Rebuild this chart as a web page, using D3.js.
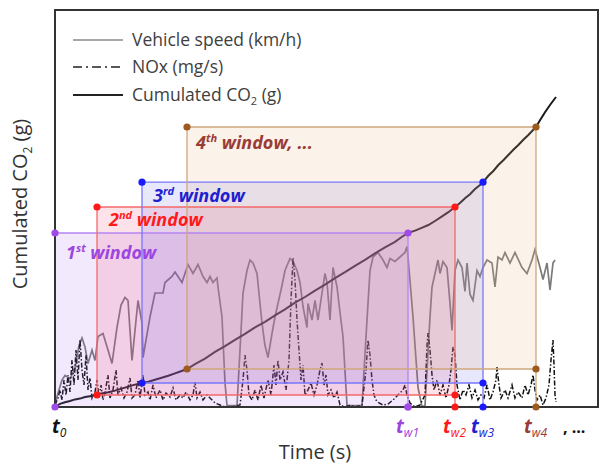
<!DOCTYPE html>
<html><head><meta charset="utf-8">
<script src="https://cdn.jsdelivr.net/npm/d3@7"></script>
<style>body{margin:0;background:#fff;} svg{display:block;}</style>
</head><body>
<svg id="c" width="602" height="465"></svg>
<script>
// ---------- data ----------
const speedT = [0,6,21,30,45,60,72,81,90,99,111,120,129,144,159,171,186,198,210,219,231,240,249,261,264,285,300,324,330,351,360,381,399,414,429,444,456,465,474,486,489,501,510,516,546,555,564,576,585,594,606,615,621,630,639,651,660,669,681,690,705,714,726,735,744,756,759,771,780,789,801,810,816,825,834,846,855,864,876,921,936,945,954,969,984,996,1005,1020,1035,1050,1056,1059,1074,1089,1101,1110,1119,1125,1131,1140,1149,1155,1164,1176,1185,1191,1200,1209,1221,1230,1236,1245,1254,1266,1275,1284,1296,1311,1320,1329,1341,1350,1365,1380,1401,1416,1431,1440,1455,1464,1476,1485,1494,1500];
const speedV = [1,7,18,21,19,26,41,46,40,29,38,31,47,49,38,29,53,68,73,71,31,51,71,56,33,60,76,76,83,87,90,83,95,89,95,87,83,87,83,86,80,60,16,1,1,38,76,91,98,96,89,69,56,41,33,49,60,69,81,91,99,97,91,83,67,53,69,58,71,58,76,89,83,58,93,80,63,47,1,1,58,91,100,103,98,93,99,97,100,103,107,100,60,13,0,1,36,60,80,89,98,89,97,93,69,51,91,98,93,77,96,75,71,91,87,93,98,96,80,100,98,103,96,103,93,89,98,105,93,85,96,78,96,98];

const noxT = [0,9,15,21,27,33,39,45,51,57,63,69,75,81,87,93,99,105,111,120,126,132,138,144,150,159,165,174,183,189,198,207,216,225,231,240,249,255,264,270,279,285,294,303,315,324,333,345,354,363,375,384,393,405,414,420,426,435,444,456,465,480,495,510,531,555,564,570,576,582,591,600,609,618,627,639,648,657,663,669,675,684,693,702,708,714,720,726,732,738,744,750,759,768,777,786,795,801,807,813,819,828,837,846,855,870,885,900,921,933,939,945,951,957,963,972,984,999,1014,1029,1044,1050,1056,1065,1080,1095,1110,1116,1119,1125,1131,1137,1146,1155,1164,1173,1182,1188,1194,1200,1206,1215,1224,1233,1242,1251,1260,1269,1278,1287,1296,1305,1314,1323,1326,1332,1338,1350,1359,1371,1380,1389,1401,1410,1419,1428,1434,1440,1446,1455,1464,1473,1482,1488,1494,1497,1500,1503];
const noxV = [2,9,17,7,27,12,32,15,47,22,57,27,67,37,22,52,17,29,9,15,27,9,22,7,14,32,9,17,37,12,19,9,15,29,9,12,27,9,32,12,15,7,22,9,17,7,14,10,19,7,12,9,15,7,12,25,9,15,7,12,9,4,2,0,0,2,27,52,37,12,7,17,7,22,9,27,12,42,22,47,27,35,17,47,107,149,127,87,57,27,42,12,17,24,12,22,37,44,22,32,12,17,9,15,2,0,2,0,2,37,67,52,27,12,7,4,2,3,7,12,17,22,12,4,0,2,12,62,74,57,32,17,27,12,22,9,22,37,60,52,22,7,17,12,22,9,17,7,12,9,22,7,15,27,40,22,9,17,9,22,9,15,9,22,12,22,32,17,7,12,2,9,22,47,67,42,12,5];

const co2T = [0,15,30,45,60,75,90,105,126,140,160,180,200,220,240,261,280,300,320,340,360,380,396,420,450,480,510,540,570,600,630,660,690,720,750,780,810,840,870,900,930,960,990,1020,1040,1059,1080,1100,1120,1140,1160,1180,1200,1215,1230,1245,1260,1275,1284,1300,1315,1330,1345,1360,1375,1390,1405,1420,1443,1455,1470,1485,1503];
const co2V = [0,8,12,15,19,21,25,27,30,34,37,41,46,51,56,60,63,68,73,78,84,90,95,107,121,138,152,168,183,199,213,229,244,261,275,291,306,322,337,353,368,384,399,413,425,435,441,448,455,465,476,487,500,510,522,532,545,555,562,578,590,605,617,630,643,655,668,680,700,717,737,755,775];

const windowNames = ["1st window", "2nd window", "3rd window", "4th window, ..."];
const windowStart = [0, 126, 261, 396];
const windowEnd = [1059, 1200, 1284, 1443];
const windowEndLabels = ["w1", "w2", "w3", "w4"];

// ---------- setup ----------
const svg = d3.select("#c");
const L = 55, R = 598, T = 10, B = 407;
const x = d3.scaleLinear().domain([0, 1629]).range([L, R]);
const yCO2 = d3.scaleLinear().domain([0, 1000]).range([B, 7]);
const ySpeed = d3.scaleLinear().domain([0, 120]).range([B, 227]);
const yNox = d3.scaleLinear().domain([0, 150]).range([B, 257]);
const co2At = t => co2V[co2T.indexOf(t)];
const FONT = "'Open Sans', sans-serif";

const col = [
  {line:"#b585f2", dot:"#a04be8", text:"#9c45e0", fill:"rgba(170,110,240,0.15)"},
  {line:"#f26a6a", dot:"#ff1a1a", text:"#ff1a1a", fill:"rgba(240,60,110,0.15)"},
  {line:"#7777ff", dot:"#1a1aff", text:"#2020d0", fill:"rgba(90,90,235,0.14)"},
  {line:"#cfa67c", dot:"#9c5a1e", text:"#9a3c36", fill:"rgba(230,175,125,0.17)"}
];

// data lines
const speedData = speedT.map((t,i)=>[t, speedV[i]]);
const noxData = noxT.map((t,i)=>[t, noxV[i]]);
const co2Data = co2T.map((t,i)=>[t, co2V[i]]);

svg.append("path").datum(speedData)
  .attr("d", d3.line().x(d=>x(d[0])).y(d=>ySpeed(d[1])))
  .attr("fill","none").attr("stroke","#7a7a7a").attr("stroke-width",1.7);
svg.append("path").datum(noxData)
  .attr("d", d3.line().x(d=>x(d[0])).y(d=>yNox(d[1])))
  .attr("fill","none").attr("stroke","#111").attr("stroke-width",1.5)
  .attr("stroke-dasharray","5,2,1.5,2");
svg.append("path").datum(co2Data)
  .attr("d", d3.line().x(d=>x(d[0])).y(d=>yCO2(d[1])))
  .attr("fill","none").attr("stroke","#1a1a1a").attr("stroke-width",2);

// windows
windowStart.forEach((s,i)=>{
  const e = windowEnd[i];
  const x0 = x(s), x1 = x(e), yb = yCO2(co2At(s)), yt = yCO2(co2At(e));
  svg.append("rect").attr("x",x0).attr("y",yt).attr("width",x1-x0).attr("height",yb-yt)
    .attr("fill",col[i].fill);
});
windowStart.forEach((s,i)=>{
  const e = windowEnd[i];
  const x0 = x(s), x1 = x(e), yb = yCO2(co2At(s)), yt = yCO2(co2At(e));
  const g = svg.append("g").attr("stroke",col[i].line).attr("stroke-width",1.3).attr("fill","none");
  g.append("path").attr("d",`M${x0},${yb}V${yt}H${x1}V${B}M${x0},${yb}H${x1}`);
});

// frame
svg.append("rect").attr("x",L).attr("y",T).attr("width",R-L).attr("height",B-T)
  .attr("fill","none").attr("stroke","#333").attr("stroke-width",2);

// dots
windowStart.forEach((s,i)=>{
  const e = windowEnd[i];
  const yb = yCO2(co2At(s)), yt = yCO2(co2At(e));
  const pts = [[x(s),yt],[x(s),yb],[x(e),yt],[x(e),yb],[x(e),B]];
  svg.selectAll(null).data(pts).enter().append("circle")
    .attr("cx",d=>d[0]).attr("cy",d=>d[1]).attr("r",3.6).attr("fill",col[i].dot);
});

// window labels
const labelPos = [[66,259],[109,226],[153,202],[196,149]];
const sups = ["st","nd","rd","th"];
windowNames.forEach((n,i)=>{
  const t = svg.append("text").attr("x",labelPos[i][0]).attr("y",labelPos[i][1])
    .attr("font-family",FONT).attr("font-weight","bold").attr("font-style","italic")
    .attr("font-size",18).attr("fill",col[i].text);
  t.append("tspan").text(n.charAt(0));
  t.append("tspan").text(sups[i]).attr("font-size",11).attr("dy",-7);
  t.append("tspan").text(n.slice(3)).attr("dy",7);
});

// legend
const lg = svg.append("g").attr("font-family",FONT).attr("font-size",17.5).attr("fill","#404040");
lg.append("line").attr("x1",73).attr("x2",123).attr("y1",40).attr("y2",40).attr("stroke","#8a8a8a").attr("stroke-width",1.6);
lg.append("line").attr("x1",73).attr("x2",120).attr("y1",67).attr("y2",67).attr("stroke","#222").attr("stroke-width",1.6).attr("stroke-dasharray","9,4,2,4");
lg.append("line").attr("x1",73).attr("x2",123).attr("y1",95).attr("y2",95).attr("stroke","#222").attr("stroke-width",2);
lg.append("text").attr("x",132).attr("y",46).text("Vehicle speed (km/h)");
lg.append("text").attr("x",132).attr("y",73).text("NOx (mg/s)");
const lt = lg.append("text").attr("x",132).attr("y",101);
lt.append("tspan").text("Cumulated CO");
lt.append("tspan").text("2").attr("font-size",11).attr("dy",4);
lt.append("tspan").text(" (g)").attr("dy",-4);

// axis titles
const yt = svg.append("text").attr("transform","translate(27,204) rotate(-90)").attr("text-anchor","middle")
  .attr("font-family",FONT).attr("font-size",20).attr("fill","#333");
yt.append("tspan").text("Cumulated CO");
yt.append("tspan").text("2").attr("font-size",12).attr("dy",5);
yt.append("tspan").text(" (g)").attr("dy",-5);
svg.append("text").attr("x",315).attr("y",459).attr("text-anchor","middle")
  .attr("font-family",FONT).attr("font-size",20).attr("fill","#333").text("Time (s)");

// time labels
const tl = (xx, sub, color) => {
  const t = svg.append("text").attr("x",xx).attr("y",433)
    .attr("font-family",FONT).attr("font-weight","bold").attr("font-style","italic")
    .attr("font-size",19).attr("fill",color);
  t.append("tspan").text("t");
  t.append("tspan").text(sub).attr("font-size",12).attr("dy",4).attr("font-weight","normal");
};
tl(52, "0", "#111");
windowEnd.forEach((e,i)=> tl(x(e)-12, windowEndLabels[i], col[i].text));
svg.append("text").attr("x",563).attr("y",433).attr("font-family",FONT)
  .attr("font-weight","bold").attr("font-size",16).attr("fill","#111").text(", ...");
</script>
</body></html>
